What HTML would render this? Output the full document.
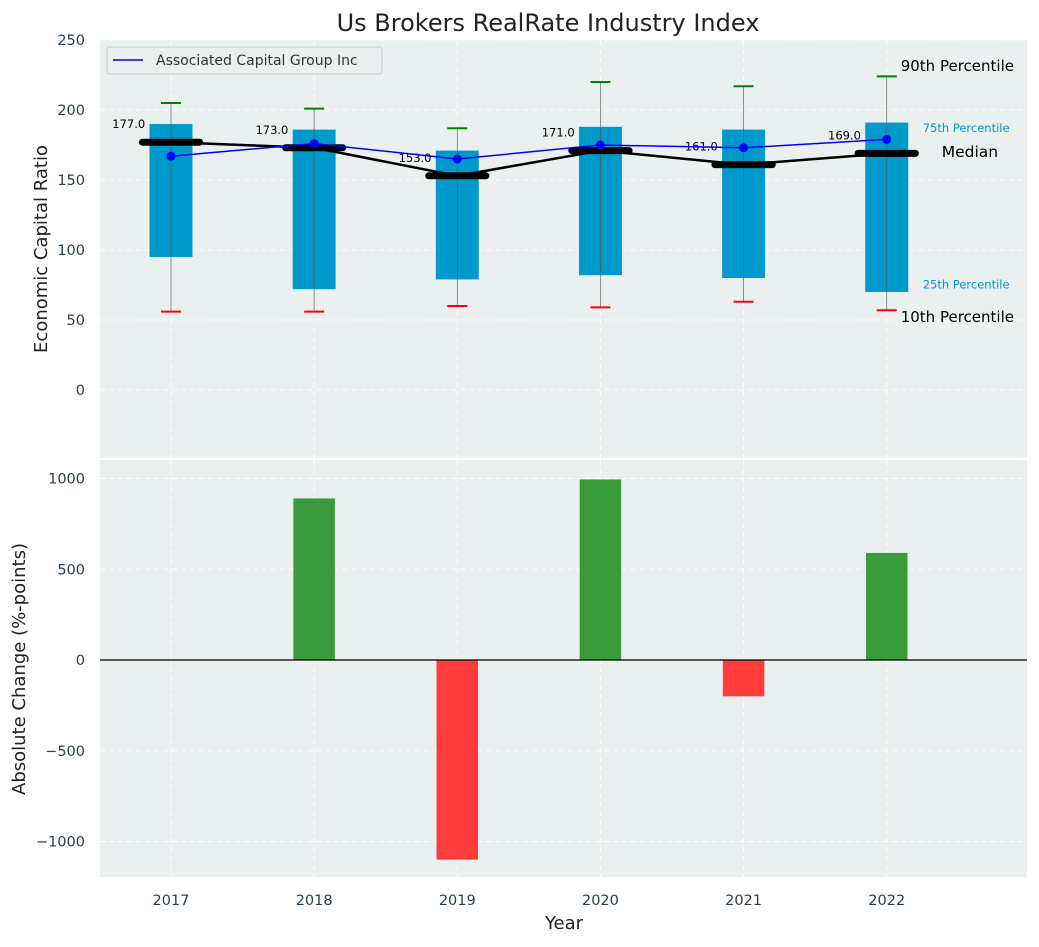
<!DOCTYPE html>
<html><head><meta charset="utf-8"><style>
body{margin:0;background:#fff;}
text{font-family:"DejaVu Sans","Liberation Sans",sans-serif;}
</style></head><body>
<svg id="chart" width="1039" height="942" xmlns="http://www.w3.org/2000/svg"></svg>
<script>
const years=[2017,2018,2019,2020,2021,2022];
const p10=[56,56,60,59,63,57];
const p25=[95,72,79,82,80,70];
const p75=[190,186,171,188,186,191];
const p90=[205,201,187,220,217,224];
const median=[177,173,153,171,161,169];
const company=[167,176,165,175,173,179];
const change=[0,890,-1100,995,-200,590];
const topTicks=[0,50,100,150,200,250];
const botTicks=[-1000,-500,0,500,1000];

const svg=document.getElementById('chart');
const NS='http://www.w3.org/2000/svg';
function el(tag,attrs,parent,txt){const e=document.createElementNS(NS,tag);for(const k in attrs)e.setAttribute(k,attrs[k]);if(txt!==undefined)e.textContent=txt;(parent||svg).appendChild(e);return e;}
const X0=100,X1=1027;
const xs=v=>X0+(v-2016.504)/(2022.98-2016.504)*(X1-X0);
const yT=v=>390-v*1.4;
const yB=v=>660-v*0.1815;
const u=xs(1)-xs(0);

let t=el('text',{x:548,y:31,'text-anchor':'middle','font-size':24,fill:'#222'},svg,'Us Brokers RealRate Industry Index');


let pt=el('rect',{x:X0,y:40,width:X1-X0,height:418,fill:'#eaeff0'});

let pb=el('rect',{x:X0,y:460,width:X1-X0,height:417,fill:'#eaeff0'});


topTicks.forEach(v=>{el('line',{x1:X0,x2:X1,y1:yT(v),y2:yT(v),stroke:'#fff','stroke-dasharray':'5,4'});
 let l=el('text',{x:85,y:yT(v)+5,'text-anchor':'end','font-size':14.5,fill:'#2c3e50'},svg,v);
 });
botTicks.forEach(v=>{el('line',{x1:X0,x2:X1,y1:yB(v),y2:yB(v),stroke:'#fff','stroke-dasharray':'5,4'});
 let l=el('text',{x:85,y:yB(v)+5,'text-anchor':'end','font-size':14.5,fill:'#2c3e50'},svg,v<0?'\u2212'+(-v):v);
 });
years.forEach(y=>{const x=xs(y);
 el('line',{x1:x,x2:x,y1:40,y2:458,stroke:'#fff','stroke-dasharray':'5,4'});
 el('line',{x1:x,x2:x,y1:460,y2:877,stroke:'#fff','stroke-dasharray':'5,4'});
 let l=el('text',{x:x,y:905,'text-anchor':'middle','font-size':14.5,fill:'#2c3e50'},svg,y);
 });

years.forEach((y,i)=>{const x=xs(y);
 let b=el('rect',{x:x-0.15*u,y:yT(p75[i]),width:0.3*u,height:yT(p25[i])-yT(p75[i]),fill:'#0099cc'});
 
 el('line',{x1:x,x2:x,y1:yT(p10[i]),y2:yT(p90[i]),stroke:'#555','stroke-width':0.8,opacity:0.8});
 el('line',{x1:x-10,x2:x+10,y1:yT(p90[i]),y2:yT(p90[i]),stroke:'green','stroke-width':2});
 el('line',{x1:x-10,x2:x+10,y1:yT(p10[i]),y2:yT(p10[i]),stroke:'red','stroke-width':2});
});
let mp=years.map((y,i)=>xs(y)+','+yT(median[i])).join(' ');
let ml=el('polyline',{points:mp,fill:'none',stroke:'#000','stroke-width':2.5});

years.forEach((y,i)=>{const x=xs(y);
 let m=el('line',{x1:x-0.2*u,x2:x+0.2*u,y1:yT(median[i]),y2:yT(median[i]),stroke:'#000','stroke-width':7,'stroke-linecap':'round'});
 
 let l=el('text',{x:x-0.18*u,y:yT(median[i])-14,'text-anchor':'end','font-size':11.5,fill:'#000'},svg,median[i].toFixed(1));
 
});
let cl=el('polyline',{points:years.map((y,i)=>xs(y)+','+yT(company[i])).join(' '),fill:'none',stroke:'blue','stroke-width':1.5});

years.forEach((y,i)=>{let c=el('circle',{cx:xs(y),cy:yT(company[i]),r:4.5,fill:'blue'});
 });

const xl=xs(2022);const li=5;
[['90th Percentile',p90[li]+7.5,15,'#000',xl+14],['75th Percentile',p75[li]-3,11.5,'#0099cc',xl+36],['Median',median[li]+1,15.5,'#000',xl+55],['25th Percentile',p25[li]+6,11.5,'#0099cc',xl+36],['10th Percentile',p10[li]-5,15,'#000',xl+14]].forEach(a=>{
 let l=el('text',{x:a[4],y:yT(a[1])+5,'font-size':a[2],fill:a[3]},svg,a[0]);
 });

let lg=el('g',{});
el('rect',{x:107,y:47,width:275,height:27,rx:3,fill:'#eaeff0',stroke:'#ccc'},lg);
el('line',{x1:113,x2:143,y1:60,y2:60,stroke:'blue','stroke-width':1.5},lg);
el('text',{x:156,y:65,'font-size':14,fill:'#333'},lg,'Associated Capital Group Inc');

years.forEach((y,i)=>{const v=change[i];if(v===0)return;
 let b=el('rect',{x:xs(y)-0.145*u,y:Math.min(yB(v),yB(0)),width:0.29*u,height:Math.abs(yB(v)-yB(0)),fill:v>0?'#3a9b3c':'#ff3c3c'});
 });
el('line',{x1:X0,x2:X1,y1:yB(0),y2:yB(0),stroke:'#000','stroke-width':1.2});

let a1=el('text',{x:0,y:0,transform:'translate(47,249) rotate(-90)','text-anchor':'middle','font-size':18,fill:'#222'},svg,'Economic Capital Ratio');

let a2=el('text',{x:0,y:0,transform:'translate(25,669) rotate(-90)','text-anchor':'middle','font-size':18,fill:'#222'},svg,'Absolute Change (%-points)');

let a3=el('text',{x:564,y:929,'text-anchor':'middle','font-size':18,fill:'#222'},svg,'Year');

</script>
</body></html>
